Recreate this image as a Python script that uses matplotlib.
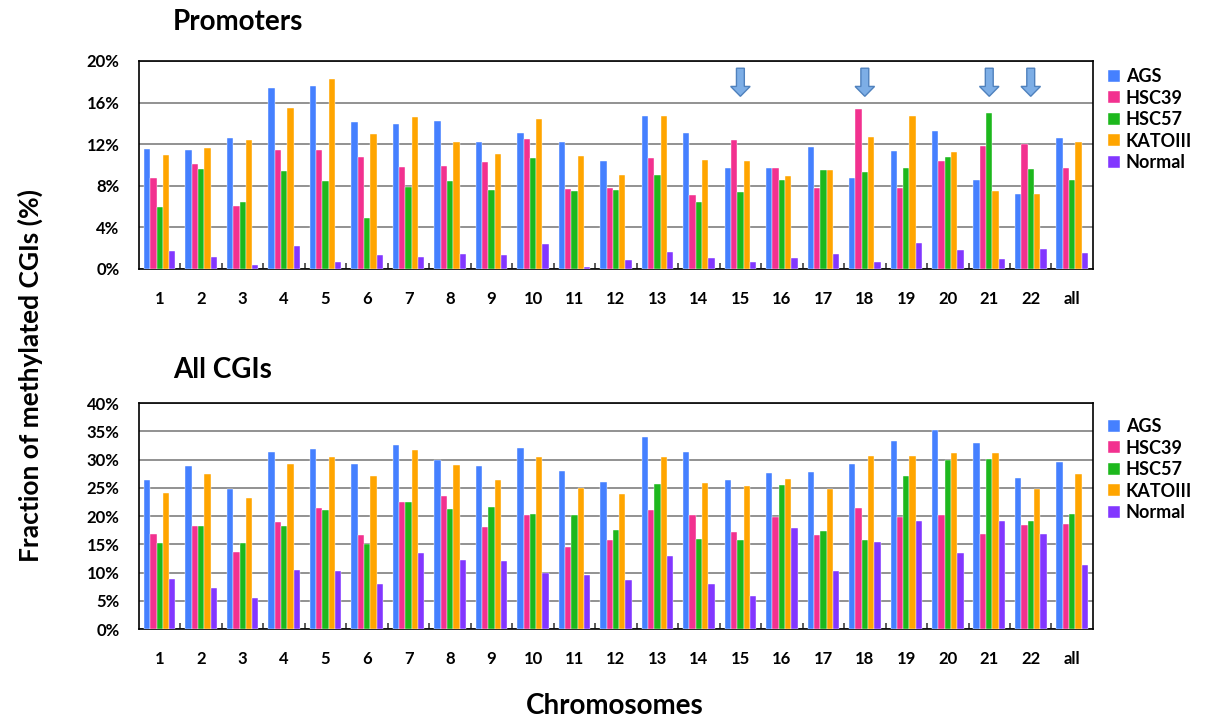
import numpy as np
import matplotlib as mpl
import matplotlib.pyplot as plt

mpl.rcParams["font.family"] = ["Lato", "DejaVu Sans"]
mpl.rcParams["font.weight"] = "bold"

# =========================
# Data
# =========================
chromosomes = [str(i) for i in range(1, 23)] + ["all"]
series_names = ["AGS", "HSC39", "HSC57", "KATOIII", "Normal"]

# Promoters (%)
prom_ags = [11.5, 11.4, 12.6, 17.4, 17.6, 14.1, 13.9, 14.2, 12.2, 13.1, 12.2, 10.4,
            14.7, 13.1, 9.7, 9.7, 11.7, 8.7, 11.3, 13.3, 8.6, 7.2, 12.6]
prom_hsc39 = [8.7, 10.1, 6.1, 11.4, 11.4, 10.8, 9.8, 9.9, 10.3, 12.5, 7.7, 7.8,
              10.7, 7.1, 12.4, 9.7, 7.8, 15.4, 7.8, 10.4, 11.8, 12.0, 9.7]
prom_hsc57 = [6.0, 9.6, 6.4, 9.4, 8.5, 4.9, 7.9, 8.5, 7.6, 10.7, 7.5, 7.6,
              9.0, 6.4, 7.4, 8.6, 9.5, 9.3, 9.7, 10.8, 15.0, 9.6, 8.6]
prom_kato = [11.0, 11.6, 12.4, 15.5, 18.3, 13.0, 14.6, 12.2, 11.1, 14.4, 10.9, 9.0,
             14.7, 10.5, 10.4, 8.9, 9.5, 12.7, 14.7, 11.2, 7.5, 7.2, 12.2]
prom_normal = [1.7, 1.15, 0.35, 2.2, 0.7, 1.3, 1.15, 1.4, 1.3, 2.4, 0.15, 0.9,
               1.6, 1.1, 0.65, 1.1, 1.4, 0.65, 2.5, 1.8, 1.0, 1.9, 1.5]

# All CGIs (%)
all_ags = [26.3, 28.8, 24.8, 31.4, 31.9, 29.2, 32.6, 30.0, 28.8, 32.1, 27.9, 26.1,
           34.0, 31.3, 26.4, 27.6, 27.8, 29.2, 33.2, 35.3, 32.9, 26.8, 29.5]
all_hsc39 = [16.9, 18.2, 13.7, 18.9, 21.5, 16.7, 22.4, 23.6, 18.1, 20.2, 14.5, 15.7,
             21.1, 20.1, 17.2, 19.8, 16.7, 21.4, 19.9, 20.1, 16.8, 18.4, 18.5]
all_hsc57 = [15.3, 18.3, 15.2, 18.2, 21.0, 15.1, 22.5, 21.2, 21.6, 20.4, 20.2, 17.6,
             25.6, 15.9, 15.7, 25.4, 17.4, 15.7, 27.0, 29.9, 30.1, 19.2, 20.4]
all_kato = [24.1, 27.5, 23.2, 29.2, 30.4, 27.1, 31.7, 29.1, 26.4, 30.4, 25.0, 23.9,
            30.5, 25.8, 25.3, 26.6, 24.8, 30.7, 30.7, 31.1, 31.2, 24.7, 27.5]
all_normal = [8.9, 7.3, 5.4, 10.5, 10.2, 8.0, 13.4, 12.2, 12.0, 10.0, 9.6, 8.6,
              13.0, 7.9, 5.9, 17.9, 10.2, 15.4, 19.2, 13.4, 19.2, 16.9, 11.4]

arrow_chroms = ["15", "18", "21", "22"]

colors = ["#4580FF", "#F2318F", "#1DB81D", "#FFA500", "#8237FF"]


def draw_panel(ax, values, ymax, ystep, legend_y):
    x = np.arange(len(chromosomes))
    bw = 0.152
    for i, (vals, name, c) in enumerate(zip(values, series_names, colors)):
        ax.bar(x + (i - 2) * bw, vals, width=bw, color=c, label=name,
               edgecolor="white", linewidth=0.3, zorder=3)

    ax.set_xlim(-0.5, len(chromosomes) - 0.5)
    ax.set_ylim(0, ymax)
    yt = np.arange(0, ymax + 0.001, ystep)
    ax.set_yticks(yt)
    ax.set_yticklabels([f"{int(round(v))}%" for v in yt], fontsize=12, fontweight="bold")
    ax.yaxis.grid(True, color="#7f7f7f", linewidth=1.2, zorder=0)
    ax.tick_params(axis="y", length=0, pad=14)

    ax.set_xticks(x)
    ax.set_xticklabels(chromosomes, fontsize=12, fontweight="bold")
    ax.set_xticks(np.arange(0.5, len(chromosomes) - 1, 1.0), minor=True)
    ax.tick_params(axis="x", which="major", length=0, pad=16)
    ax.tick_params(axis="x", which="minor", length=4, width=1.2, color="#404040", direction="in")

    for s in ax.spines.values():
        s.set_linewidth(1.2)

    ax.legend(loc="upper left", bbox_to_anchor=(1.008, legend_y), frameon=False,
              fontsize=13, handlelength=0.65, handleheight=0.65, handletextpad=0.35,
              labelspacing=0.25, borderaxespad=0.0)


fig = plt.figure(figsize=(12.19, 7.23), dpi=100)
ax1 = fig.add_axes([0.114, 0.628, 0.7826, 0.2877])
ax2 = fig.add_axes([0.114, 0.130, 0.7826, 0.3126])

draw_panel(ax1, [prom_ags, prom_hsc39, prom_hsc57, prom_kato, prom_normal], 20, 4, 1.0)
draw_panel(ax2, [all_ags, all_hsc39, all_hsc57, all_kato, all_normal], 40, 5, 0.965)

fig.text(0.142, 0.969, "Promoters", fontsize=20, fontweight="bold", ha="left", va="center")
fig.text(0.142, 0.488, "All CGIs", fontsize=20, fontweight="bold", ha="left", va="center")

# arrows above selected chromosomes (promoters)
for ch in arrow_chroms:
    xi = chromosomes.index(ch)
    ax1.arrow(xi, 19.3, 0, -2.7, width=0.19, head_width=0.47, head_length=0.95,
              length_includes_head=True, facecolor="#7DAEE6", edgecolor="#4F81BD",
              linewidth=1.0, zorder=4)

fig.text(0.025, 0.481, "Fraction of methylated CGIs (%)", rotation=90,
         fontsize=19, fontweight="bold", ha="center", va="center")
fig.text(0.504, 0.024, "Chromosomes", fontsize=20, fontweight="bold",
         ha="center", va="center")

fig.savefig("out.png", dpi=100)
